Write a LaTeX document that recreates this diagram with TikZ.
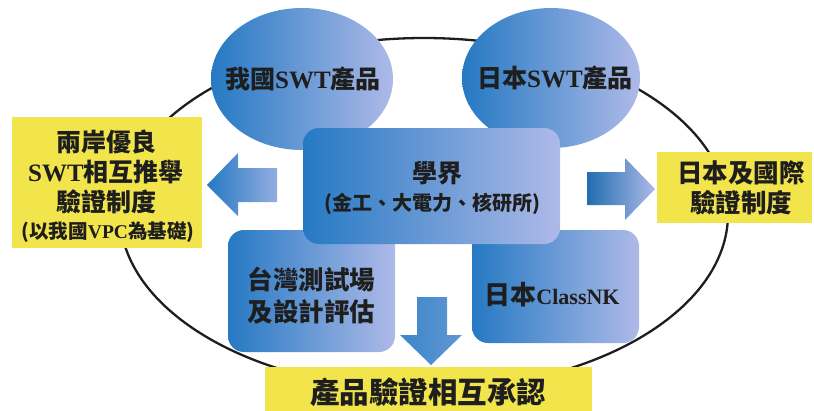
\documentclass[tikz,border=0pt]{standalone}
\usepackage{fontspec}
\newfontfamily\cjk{Noto Sans CJK TC}
\newfontfamily\latfont{Liberation Serif}
\newcommand\lat[1]{{\latfont\bfseries #1}}
\usetikzlibrary{shapes.geometric}
\definecolor{blueL}{HTML}{2579C3}
\definecolor{blueR}{HTML}{AEBAE8}
\definecolor{yel}{HTML}{F2E54C}
\definecolor{ink}{HTML}{1E1E1E}
\tikzset{
  bubble/.style={ellipse, inner sep=0pt, left color=blueL, right color=blueR, draw=none},
  bluebox/.style={rectangle, rounded corners=16pt, inner sep=0pt, left color=blueL, right color=blueR, draw=none},
  yelbox/.style={rectangle, inner sep=0pt, fill=yel, draw=none},
  txt/.style={inner sep=0pt, text=ink, font=\cjk\bfseries, align=center},
  blockarrow/.style={draw=none}
}
\begin{document}
\begin{tikzpicture}[x=1pt,y=-1pt]
\useasboundingbox (0,0) rectangle (814,410);
% big outline ellipse
\draw[line width=2.3pt, ink] (424,214) ellipse [x radius=304pt, y radius=176pt];
% bubbles
\node[bubble, minimum width=182pt, minimum height=142pt] (tw) at (302,79) {};
\node[bubble, minimum width=178pt, minimum height=140pt] (jp) at (551,78) {};
% lower boxes
\node[bluebox, minimum width=167pt, minimum height=122pt] (test) at (311.5,291) {};
\node[bluebox, minimum width=167pt, minimum height=113pt] (nk) at (555.5,286.5) {};
% centre box
\node[bluebox, minimum width=257pt, minimum height=116pt] (acad) at (431.5,186) {};
% block arrows
\path[blockarrow, left color=blueL, right color=blueR!80!blueL]
  (207,185) -- (238,153) -- (238,168) -- (277,168) -- (277,202) -- (238,202) -- (238,216) -- cycle;
\path[blockarrow, left color=blueL!90!black, right color=blueR]
  (587,172) -- (625,172) -- (625,158) -- (655,189) -- (625,220) -- (625,205) -- (587,205) -- cycle;
\path[blockarrow, left color=blueL!90!white, right color=blueL!55!blueR]
  (417,297) -- (447,297) -- (447,335) -- (462,335) -- (431,365) -- (400,335) -- (417,335) -- cycle;
% yellow boxes
\node[yelbox, minimum width=190pt, minimum height=131pt] (left) at (107,182.5) {};
\node[yelbox, minimum width=155pt, minimum height=71pt] (right) at (734.5,187.5) {};
\node[yelbox, minimum width=327pt, minimum height=46pt] (bottom) at (428.5,390) {};
% texts
\node[txt, font=\cjk\bfseries\fontsize{25}{25}\selectfont] (twt) at (303,79) {我國\lat{SWT}產品};
\node[txt, font=\cjk\bfseries\fontsize{25}{25}\selectfont] (jpt) at (555,78) {日本\lat{SWT}產品};
\node[txt, font=\cjk\bfseries\fontsize{25}{25}\selectfont] (acad1) at (437,173) {學界};
\node[txt, font=\cjk\bfseries\fontsize{20}{20}\selectfont] (acad2) at (432,204) {(金工、大電力、核研所)};
\node[txt, font=\cjk\bfseries\fontsize{25.5}{32}\selectfont] (testt) at (311.5,296) {台灣測試場\\及設計評估};
\node[txt, font=\cjk\bfseries\fontsize{26}{26}\selectfont] (nkt) at (552,295) {日本{\fontsize{22}{22}\selectfont\lat{ClassNK}}};
\node[txt, font=\cjk\bfseries\fontsize{25}{30}\selectfont] (leftt) at (106,172) {兩岸優良\\\lat{SWT}相互推舉\\驗證制度};
\node[txt, font=\cjk\bfseries\fontsize{19.5}{20}\selectfont] (leftt2) at (108,232) {(以我國\lat{VPC}為基礎)};
\node[txt, font=\cjk\bfseries\fontsize{25.5}{30}\selectfont] (rightt) at (741,188) {日本及國際\\驗證制度};
\node[txt, font=\cjk\bfseries\fontsize{29.5}{30}\selectfont] (bottomt) at (428,392) {產品驗證相互承認};
\end{tikzpicture}
\end{document}
